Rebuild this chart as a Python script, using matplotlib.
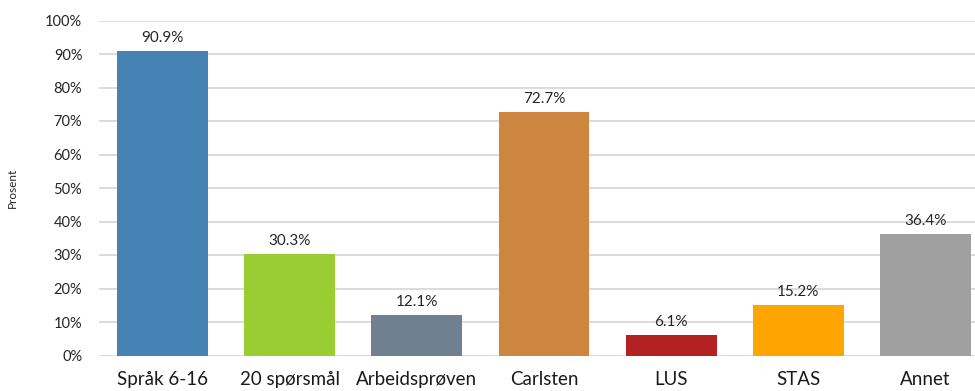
import matplotlib.pyplot as plt
from matplotlib.ticker import PercentFormatter

categories = ['Språk 6-16', '20 spørsmål', 'Arbeidsprøven', 'Carlsten', 'LUS', 'STAS', 'Annet']
values = [90.9, 30.3, 12.1, 72.7, 6.1, 15.2, 36.4]
colors = ['#4682B4', '#9ACD32', '#708090', '#CD853F', '#B22222', '#FFA500', '#A0A0A0']

plt.rcParams['font.family'] = ['Lato', 'DejaVu Sans']

fig = plt.figure(figsize=(9.75, 3.91), dpi=100)
# axes runs past the right edge, as in the original crop
ax = fig.add_axes([99 / 975, 1 - 355.5 / 391, 890 / 975, 335 / 391])

x = range(len(categories))
bars = ax.bar(x, values, width=0.715, color=colors, zorder=3)
for b, v in zip(bars, values):
    ax.text(b.get_x() + b.get_width() / 2, v + 1.8, f'{v:.1f}%',
            ha='center', va='bottom', fontsize=11, color='#262626')

ax.set_xlim(-0.5, len(categories) - 0.5)
ax.set_ylim(0, 100)
ax.set_yticks(range(0, 101, 10))
ax.yaxis.set_major_formatter(PercentFormatter(decimals=0))
ax.set_xticks(list(x))
ax.set_xticklabels(categories, fontsize=13.5, color='#1a1a1a')
ax.tick_params(axis='x', length=0, pad=11)
ax.tick_params(axis='y', length=0, pad=12, labelsize=10.5, labelcolor='#262626')
ax.grid(axis='y', color='#d9d9d9', linewidth=1.3, zorder=0)
for s in ax.spines.values():
    s.set_visible(False)
ax.set_ylabel('Prosent', fontsize=8.5, labelpad=20, color='#262626')

fig.savefig('out.png', dpi=100)
